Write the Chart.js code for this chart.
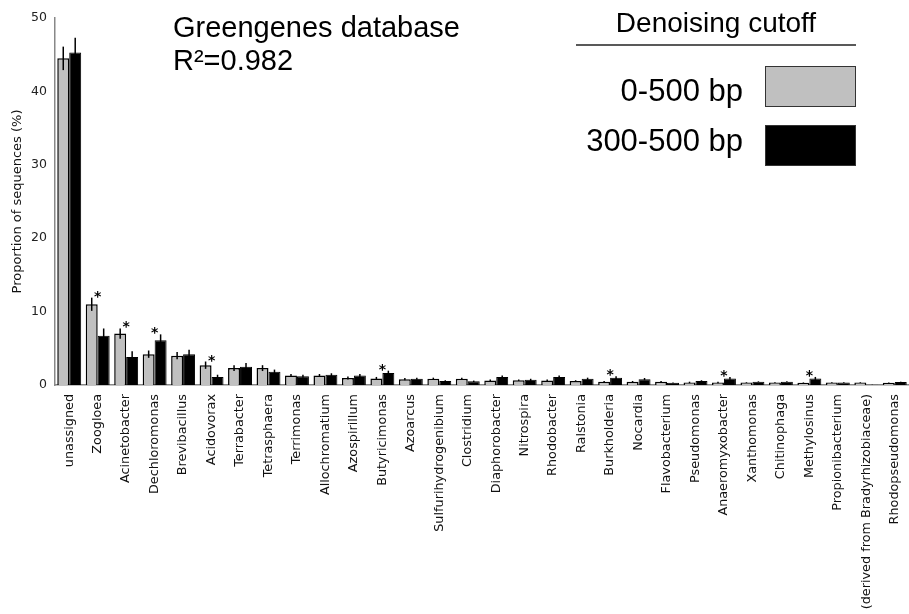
<!DOCTYPE html>
<html>
<head>
<meta charset="utf-8">
<script src="https://cdn.jsdelivr.net/npm/chart.js@4"></script>
<style>
  body { margin: 0; background: #fff; }
  #wrap { width: 909px; height: 614px; }
</style>
</head>
<body>
<div id="wrap"><canvas id="chart" width="909" height="614"></canvas></div>
<script>
const genera = ['unassigned', 'Zoogloea', 'Acinetobacter', 'Dechloromonas', 'Brevibacillus',
    'Acidovorax', 'Terrabacter', 'Tetrasphaera', 'Terrimonas', 'Allochromatium', 'Azospirillum',
    'Butyricimonas', 'Azoarcus', 'Sulfurihydrogenibium', 'Clostridium', 'Diaphorobacter',
    'Nitrospira', 'Rhodobacter', 'Ralstonia', 'Burkholderia', 'Nocardia', 'Flavobacterium',
    'Pseudomonas', 'Anaeromyxobacter', 'Xanthomonas', 'Chitinophaga', 'Methylosinus',
    'Propionibacterium', '(derived from Bradyrhizobiaceae)', 'Rhodopseudomonas'];

// 0-500 bp
const fullRange = [44.5, 11.0, 7.0, 4.2, 4.0, 2.7, 2.3, 2.3, 1.3, 1.3, 0.95, 0.9, 0.8, 0.85, 0.85,
    0.6, 0.65, 0.6, 0.55, 0.45, 0.45, 0.45, 0.35, 0.35, 0.35, 0.35, 0.3, 0.35, 0.35, 0.3];
const fullRangeErr = [1.6, 0.9, 0.7, 0.5, 0.5, 0.5, 0.4, 0.4, 0.2, 0.2, 0.2, 0.2, 0.15, 0.15, 0.15,
    0.15, 0.1, 0.15, 0.1, 0.1, 0.1, 0.1, 0.1, 0.1, 0.05, 0.05, 0.05, 0.05, 0.05, 0.05];

// 300-500 bp
const trimmed = [45.3, 6.7, 3.8, 6.1, 4.2, 1.1, 2.5, 1.8, 1.2, 1.4, 1.3, 1.65, 0.85, 0.55, 0.5,
    1.1, 0.7, 1.1, 0.85, 1.0, 0.8, 0.3, 0.55, 0.9, 0.45, 0.45, 0.9, 0.35, 0.05, 0.4];
const trimmedErr = [2.0, 1.0, 0.8, 0.8, 0.6, 0.3, 0.5, 0.3, 0.2, 0.2, 0.2, 0.3, 0.15, 0.1, 0.1,
    0.2, 0.15, 0.2, 0.15, 0.2, 0.15, 0.05, 0.1, 0.2, 0.05, 0.05, 0.2, 0.05, 0.02, 0.05];

const significant = ['Zoogloea', 'Acinetobacter', 'Dechloromonas', 'Acidovorax', 'Butyricimonas',
    'Burkholderia', 'Anaeromyxobacter', 'Methylosinus'];

const errs = [fullRangeErr, trimmedErr];

// error bars and significance stars
const errorBars = {
    id: 'errorBars',
    afterDatasetsDraw(chart) {
        const ctx = chart.ctx;
        const y = chart.scales.y;
        ctx.save();
        ctx.strokeStyle = '#000';
        ctx.lineWidth = 1.5;
        chart.data.datasets.forEach((ds, i) => {
            chart.getDatasetMeta(i).data.forEach((bar, j) => {
                const v = ds.data[j], e = errs[i][j];
                ctx.beginPath();
                ctx.moveTo(bar.x, y.getPixelForValue(v + e));
                ctx.lineTo(bar.x, y.getPixelForValue(Math.max(v - e, 0)));
                ctx.stroke();
            });
        });
        ctx.fillStyle = '#000';
        ctx.font = 'bold 14px "DejaVu Sans"';
        ctx.textAlign = 'center';
        ctx.textBaseline = 'alphabetic';
        genera.forEach((g, j) => {
            if (!significant.includes(g)) return;
            const top = Math.max(fullRange[j] + fullRangeErr[j], trimmed[j] + trimmedErr[j]);
            ctx.fillText('*', chart.scales.x.getPixelForValue(j), y.getPixelForValue(top) + 3);
        });
        ctx.restore();
    }
};

const annotations = {
    id: 'annotations',
    afterDraw(chart) {
        const ctx = chart.ctx;
        ctx.save();
        ctx.fillStyle = '#000';
        ctx.textBaseline = 'alphabetic';
        ctx.textAlign = 'left';
        ctx.font = '29px "Liberation Sans"';
        ctx.fillText('Greengenes database', 173, 37);
        ctx.fillText('R²=0.982', 173, 70);

        ctx.textAlign = 'center';
        ctx.font = '28px "Liberation Sans"';
        ctx.fillText('Denoising cutoff', 716, 32);
        ctx.strokeStyle = '#222';
        ctx.lineWidth = 1.5;
        ctx.beginPath();
        ctx.moveTo(576, 45);
        ctx.lineTo(856, 45);
        ctx.stroke();

        ctx.textAlign = 'right';
        ctx.font = '31px "Liberation Sans"';
        const rows = [[101, 66], [151, 125]];
        chart.data.datasets.forEach((ds, i) => {
            ctx.fillStyle = '#000';
            ctx.fillText(ds.label, 743, rows[i][0]);
            ctx.fillStyle = ds.backgroundColor;
            ctx.fillRect(765, rows[i][1], 91, 40);
            ctx.strokeStyle = '#333';
            ctx.lineWidth = 1;
            ctx.strokeRect(765.5, rows[i][1] + 0.5, 90, 40);
        });
        ctx.restore();
    }
};

const ctx = document.getElementById('chart');

const data = {
    labels: genera,
    datasets: [
        {
            label: '0-500 bp',
            data: fullRange,
            backgroundColor: '#c0c0c0',
            borderColor: '#000',
            borderWidth: 1.5,
            borderSkipped: 'bottom'
        },
        {
            label: '300-500 bp',
            data: trimmed,
            backgroundColor: '#000',
            borderColor: '#000',
            borderWidth: 1,
            borderSkipped: 'bottom'
        }
    ]
};

const config = {
    type: 'bar',
    data: data,
    options: {
        responsive: false,
        animation: false,
        categoryPercentage: 0.84,
        barPercentage: 1.0,
        layout: { padding: { top: 18, right: 0, bottom: 0, left: 0 } },
        plugins: {
            legend: { display: false },
            tooltip: { enabled: false }
        },
        scales: {
            x: {
                grid: { display: false },
                border: { display: true, color: '#888', width: 1.5 },
                ticks: {
                    color: '#111',
                    font: { family: 'DejaVu Sans', size: 12.8 },
                    minRotation: 90,
                    maxRotation: 90,
                    autoSkip: false,
                    padding: 1
                },
                afterFit(scale) {
                    scale.height = 229;
                    scale.paddingRight = 0;
                    scale.paddingLeft = 0;
                }
            },
            y: {
                min: 0,
                max: 50,
                grid: { display: false },
                border: { display: true, color: '#888', width: 1.5 },
                ticks: {
                    stepSize: 10,
                    color: '#222',
                    font: { family: 'DejaVu Sans', size: 12.5 },
                    padding: 0
                },
                title: {
                    display: true,
                    text: 'Proportion of sequences (%)',
                    color: '#111',
                    font: { family: 'DejaVu Sans', size: 13 },
                    padding: { top: 10, bottom: 0 }
                },
                afterFit(scale) {
                    scale.width = 55;
                }
            }
        }
    },
    plugins: [errorBars, annotations]
};

const barChart = new Chart(ctx, config);
</script>
</body>
</html>
